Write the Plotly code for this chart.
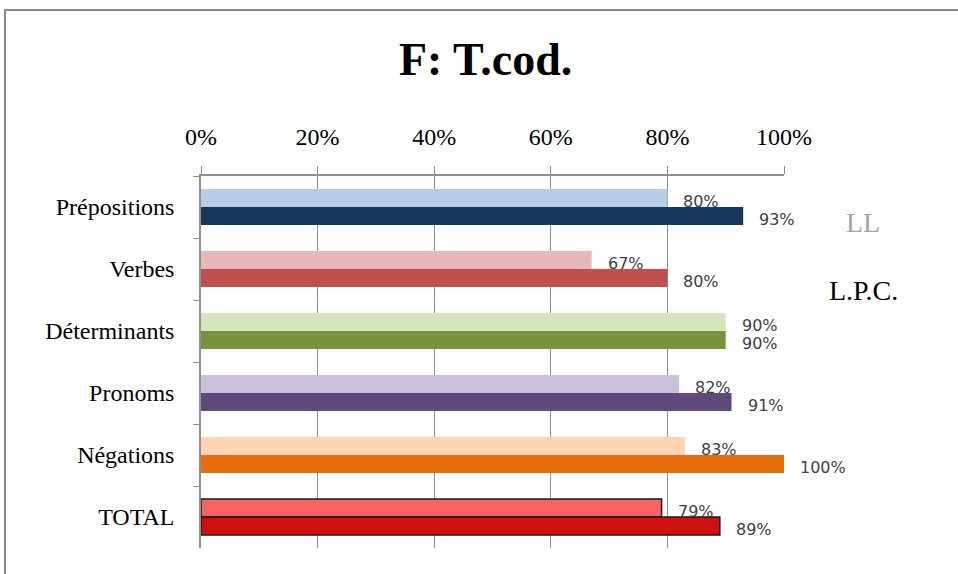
import plotly.graph_objects as go

categories = ["Prépositions", "Verbes", "Déterminants", "Pronoms", "Négations", "TOTAL"]
series_names = ["LL", "L.P.C."]
ll_values = [80, 67, 90, 82, 83, 79]
lpc_values = [93, 80, 90, 91, 100, 89]
ll_colors = ["#B9CDE5", "#E6B9B8", "#D7E4BD", "#CCC1DA", "#FCD5B5", "#F86262"]
lpc_colors = ["#17375E", "#C0504D", "#77933C", "#604A7B", "#E46C0A", "#D0100C"]
x_ticks = [0, 20, 40, 60, 80, 100]

SERIF = "Liberation Serif"
GRID = "#8f8f8f"
L, R, T, B = 201, 174, 176, 26
PW, PH = 958 - L - R, 574 - T - B


def px_to_paper(px, py):
    return (px - L) / PW, (574 - B - py) / PH


# black outline only on the TOTAL bars
line_w = [1.5 if c == "TOTAL" else 0 for c in categories]

fig = go.Figure()
fig.add_trace(go.Bar(
    y=categories, x=ll_values, orientation="h", name=series_names[0],
    marker=dict(color=ll_colors, line=dict(color="#1a1a1a", width=line_w)),
))
fig.add_trace(go.Bar(
    y=categories, x=lpc_values, orientation="h", name=series_names[1],
    marker=dict(color=lpc_colors, line=dict(color="#1a1a1a", width=line_w)),
))

annotations = []
for vals, shift in ((ll_values, 6), (lpc_values, -12)):
    for cat, v in zip(categories, vals):
        annotations.append(dict(
            x=v, y=cat, xref="x", yref="y", text=f"{v}%", showarrow=False,
            xanchor="left", yanchor="middle", xshift=14, yshift=shift,
            height=16, valign="middle",
            font=dict(family="DejaVu Sans", size=16, color="#404040"),
        ))

# series names shown as plain text on the right (old Excel-style legend)
for name, color, pos in ((series_names[0], "#A6A6A6", (863, 222)),
                         (series_names[1], "#000000", (863, 290))):
    ax, ay = px_to_paper(*pos)
    annotations.append(dict(
        x=ax, y=ay, xref="paper", yref="paper", text=name, showarrow=False,
        xanchor="center", yanchor="middle",
        font=dict(family=SERIF, size=28, color=color),
    ))

bx0, by0 = px_to_paper(5, 595)
bx1, by1 = px_to_paper(975, 10)

fig.update_layout(
    width=958, height=574,
    margin=dict(l=L, r=R, t=T, b=B),
    paper_bgcolor="white", plot_bgcolor="white",
    barmode="group", bargap=0.42, bargroupgap=0,
    showlegend=False,
    title=dict(
        text="<b>F: T.cod.</b>", x=0.507, xanchor="center", y=0.897, yanchor="middle",
        font=dict(family=SERIF, size=46, color="black"),
    ),
    xaxis=dict(
        side="top", range=[0, 100], tickvals=x_ticks,
        ticktext=[f"{v}%" for v in x_ticks],
        showgrid=True, gridcolor=GRID, gridwidth=1, zeroline=False,
        showline=True, linecolor=GRID, linewidth=1.5,
        ticks="outside", ticklen=8, tickcolor=GRID,
        ticklabelstandoff=12,
        tickfont=dict(family=SERIF, size=24, color="black"),
    ),
    yaxis=dict(
        autorange="reversed", showgrid=False, zeroline=False,
        showline=True, linecolor=GRID, linewidth=1.5,
        ticks="outside", ticklen=6, tickcolor=GRID, tickson="boundaries",
        ticklabelstandoff=20,
        tickfont=dict(family=SERIF, size=24, color="black"),
    ),
    annotations=annotations,
    shapes=[
        dict(type="rect", xref="paper", yref="paper",
             x0=bx0, x1=bx1, y0=by0, y1=by1,
             line=dict(color="#8a8a8a", width=2), fillcolor="rgba(0,0,0,0)",
             layer="below"),
    ],
)

fig.write_html(
    "out.html",
    config={"displayModeBar": False},
    post_script="document.body.style.margin='0';",
)
